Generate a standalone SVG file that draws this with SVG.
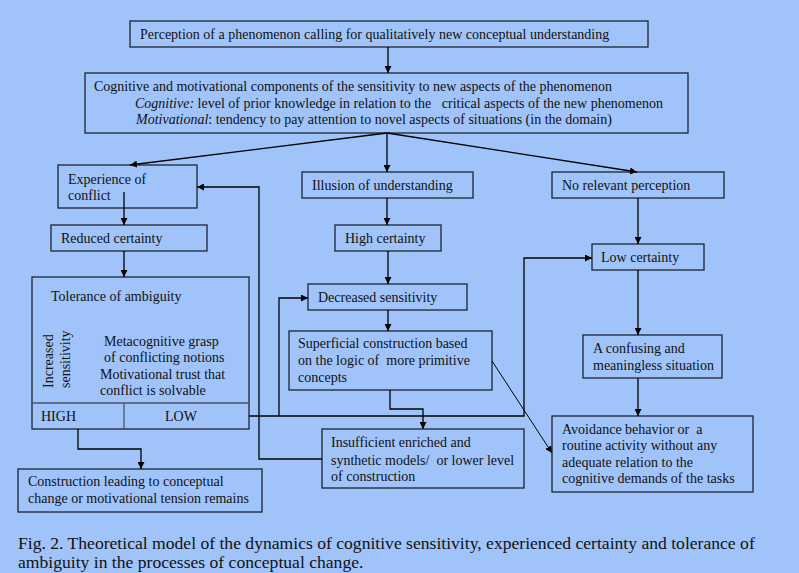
<svg xmlns="http://www.w3.org/2000/svg" width="799" height="573" viewBox="0 0 799 573">
<style>
.bx{fill:none;stroke:#1c2430;stroke-width:1.3}
.dv{fill:none;stroke:#4a5560;stroke-width:1.3}
.t{font-family:"Liberation Serif","Times New Roman",serif;font-size:14px;fill:#111;white-space:pre}
.i{font-style:italic}
.c{fill:none;stroke:#000;stroke-width:1.3}
.th{fill:none;stroke:#000;stroke-width:1}
.cap{font-family:"Liberation Serif","Times New Roman",serif;font-size:17.6px;fill:#111}
</style>
<defs>
<marker id="a" viewBox="0 0 10 10" refX="10" refY="5" markerWidth="7" markerHeight="7" orient="auto" markerUnits="userSpaceOnUse">
<path d="M0,0L10,5L0,10z" fill="#000"/>
</marker>
</defs>
<rect width="799" height="573" fill="#a0c4fa"/>

<g id="n-perception">
<rect class="bx" x="130" y="21" width="518" height="26"/>
<text class="t" x="140" y="39">Perception of a phenomenon calling for qualitatively new conceptual understanding</text>
</g>
<g id="n-components">
<rect class="bx" x="85" y="73" width="603" height="60"/>
<text class="t" x="94" y="91">Cognitive and motivational components of the sensitivity to new aspects of the phenomenon</text>
<text class="t" x="135" y="108"><tspan class="i">Cognitive:</tspan> level of prior knowledge in relation to the   critical aspects of the new phenomenon</text>
<text class="t" x="136" y="124"><tspan class="i">Motivational</tspan>: tendency to pay attention to novel aspects of situations (in the domain)</text>
</g>
<g id="n-experience">
<rect class="bx" x="58" y="165" width="139" height="43"/>
<text class="t" x="68" y="184">Experience of</text>
<text class="t" x="68" y="200">conflict</text>
</g>
<g id="n-reduced">
<rect class="bx" x="51" y="225" width="156" height="26"/>
<text class="t" x="61" y="243">Reduced certainty</text>
</g>
<g id="n-tolerance">
<rect class="bx" x="32" y="277" width="217" height="152"/>
<line class="dv" x1="32" y1="403" x2="249" y2="403"/>
<line class="dv" x1="124" y1="403" x2="124" y2="429"/>
<text class="t" x="51" y="301">Tolerance of ambiguity</text>
<text class="t" transform="translate(53,388) rotate(-90)">Increased</text>
<text class="t" transform="translate(70,388) rotate(-90)">sensitivity</text>
<text class="t" x="104" y="346">Metacognitive grasp</text>
<text class="t" x="104" y="362">of conflicting notions</text>
<text class="t" x="100" y="379">Motivational trust that</text>
<text class="t" x="100" y="395">conflict is solvable</text>
<text class="t" x="41" y="421">HIGH</text>
<text class="t" x="165" y="421">LOW</text>
</g>
<g id="n-construction">
<rect class="bx" x="18" y="469" width="244" height="43"/>
<text class="t" x="28" y="486">Construction leading to conceptual</text>
<text class="t" x="28" y="503">change or motivational tension remains</text>
</g>
<g id="n-illusion">
<rect class="bx" x="302" y="172" width="171" height="26"/>
<text class="t" x="312" y="190">Illusion of understanding</text>
</g>
<g id="n-high">
<rect class="bx" x="335" y="225" width="106" height="26"/>
<text class="t" x="345" y="243">High certainty</text>
</g>
<g id="n-decreased">
<rect class="bx" x="308" y="284" width="159" height="26"/>
<text class="t" x="318" y="302">Decreased sensitivity</text>
</g>
<g id="n-superficial">
<rect class="bx" x="289" y="331" width="203" height="59"/>
<text class="t" x="298" y="348">Superficial construction based</text>
<text class="t" x="298" y="365">on the logic of  more primitive</text>
<text class="t" x="298" y="382">concepts</text>
</g>
<g id="n-insufficient">
<rect class="bx" x="322" y="429" width="202" height="59"/>
<text class="t" x="331" y="447">Insufficient enriched and</text>
<text class="t" x="331" y="465">synthetic models/  or lower level</text>
<text class="t" x="331" y="481">of construction</text>
</g>
<g id="n-norelevant">
<rect class="bx" x="552" y="172" width="172" height="26"/>
<text class="t" x="562" y="190">No relevant perception</text>
</g>
<g id="n-low">
<rect class="bx" x="592" y="244" width="112" height="26"/>
<text class="t" x="601" y="262">Low certainty</text>
</g>
<g id="n-confusing">
<rect class="bx" x="583" y="335" width="139" height="43"/>
<text class="t" x="593" y="353">A confusing and</text>
<text class="t" x="593" y="370">meaningless situation</text>
</g>
<g id="n-avoidance">
<rect class="bx" x="552" y="416" width="201" height="76"/>
<text class="t" x="562" y="434">Avoidance behavior or  a</text>
<text class="t" x="562" y="450">routine activity without any</text>
<text class="t" x="562" y="467">adequate relation to the</text>
<text class="t" x="562" y="483">cognitive demands of the tasks</text>
</g>

<g id="connectors">
<line class="c" x1="388" y1="47" x2="388" y2="73" marker-end="url(#a)"/>
<line class="c" x1="387" y1="133" x2="130" y2="165" marker-end="url(#a)"/>
<line class="c" x1="387" y1="133" x2="387" y2="172" marker-end="url(#a)"/>
<line class="c" x1="387" y1="133" x2="637" y2="172" marker-end="url(#a)"/>
<line class="c" x1="124" y1="192" x2="124" y2="225" marker-end="url(#a)"/>
<line class="c" x1="124" y1="251" x2="124" y2="277" marker-end="url(#a)"/>
<line class="c" x1="387" y1="198" x2="387" y2="225" marker-end="url(#a)"/>
<line class="c" x1="388" y1="251" x2="388" y2="284" marker-end="url(#a)"/>
<line class="c" x1="388" y1="310" x2="388" y2="331" marker-end="url(#a)"/>
<line class="c" x1="638" y1="198" x2="638" y2="244" marker-end="url(#a)"/>
<line class="c" x1="638" y1="270" x2="638" y2="335" marker-end="url(#a)"/>
<line class="c" x1="638" y1="378" x2="638" y2="416" marker-end="url(#a)"/>
<polyline class="c" points="249,416 524,416 524,258 592,258" marker-end="url(#a)"/>
<polyline class="c" points="279,416 279,298 308,298" marker-end="url(#a)"/>
<polyline class="c" points="322,459 259,459 259,187 197,187" marker-end="url(#a)"/>
<polyline class="c" points="390,390 390,409 423,409 423,429" marker-end="url(#a)"/>
<polyline class="c" points="78,429 78,449 141,449 141,469" marker-end="url(#a)"/>
<line class="th" x1="492" y1="361" x2="552" y2="453" marker-end="url(#a)"/>
</g>

<text class="cap" x="18" y="549">Fig. 2. Theoretical model of the dynamics of cognitive sensitivity, experienced certainty and tolerance of</text>
<text class="cap" x="18" y="568">ambiguity in the processes of conceptual change.</text>
</svg>
